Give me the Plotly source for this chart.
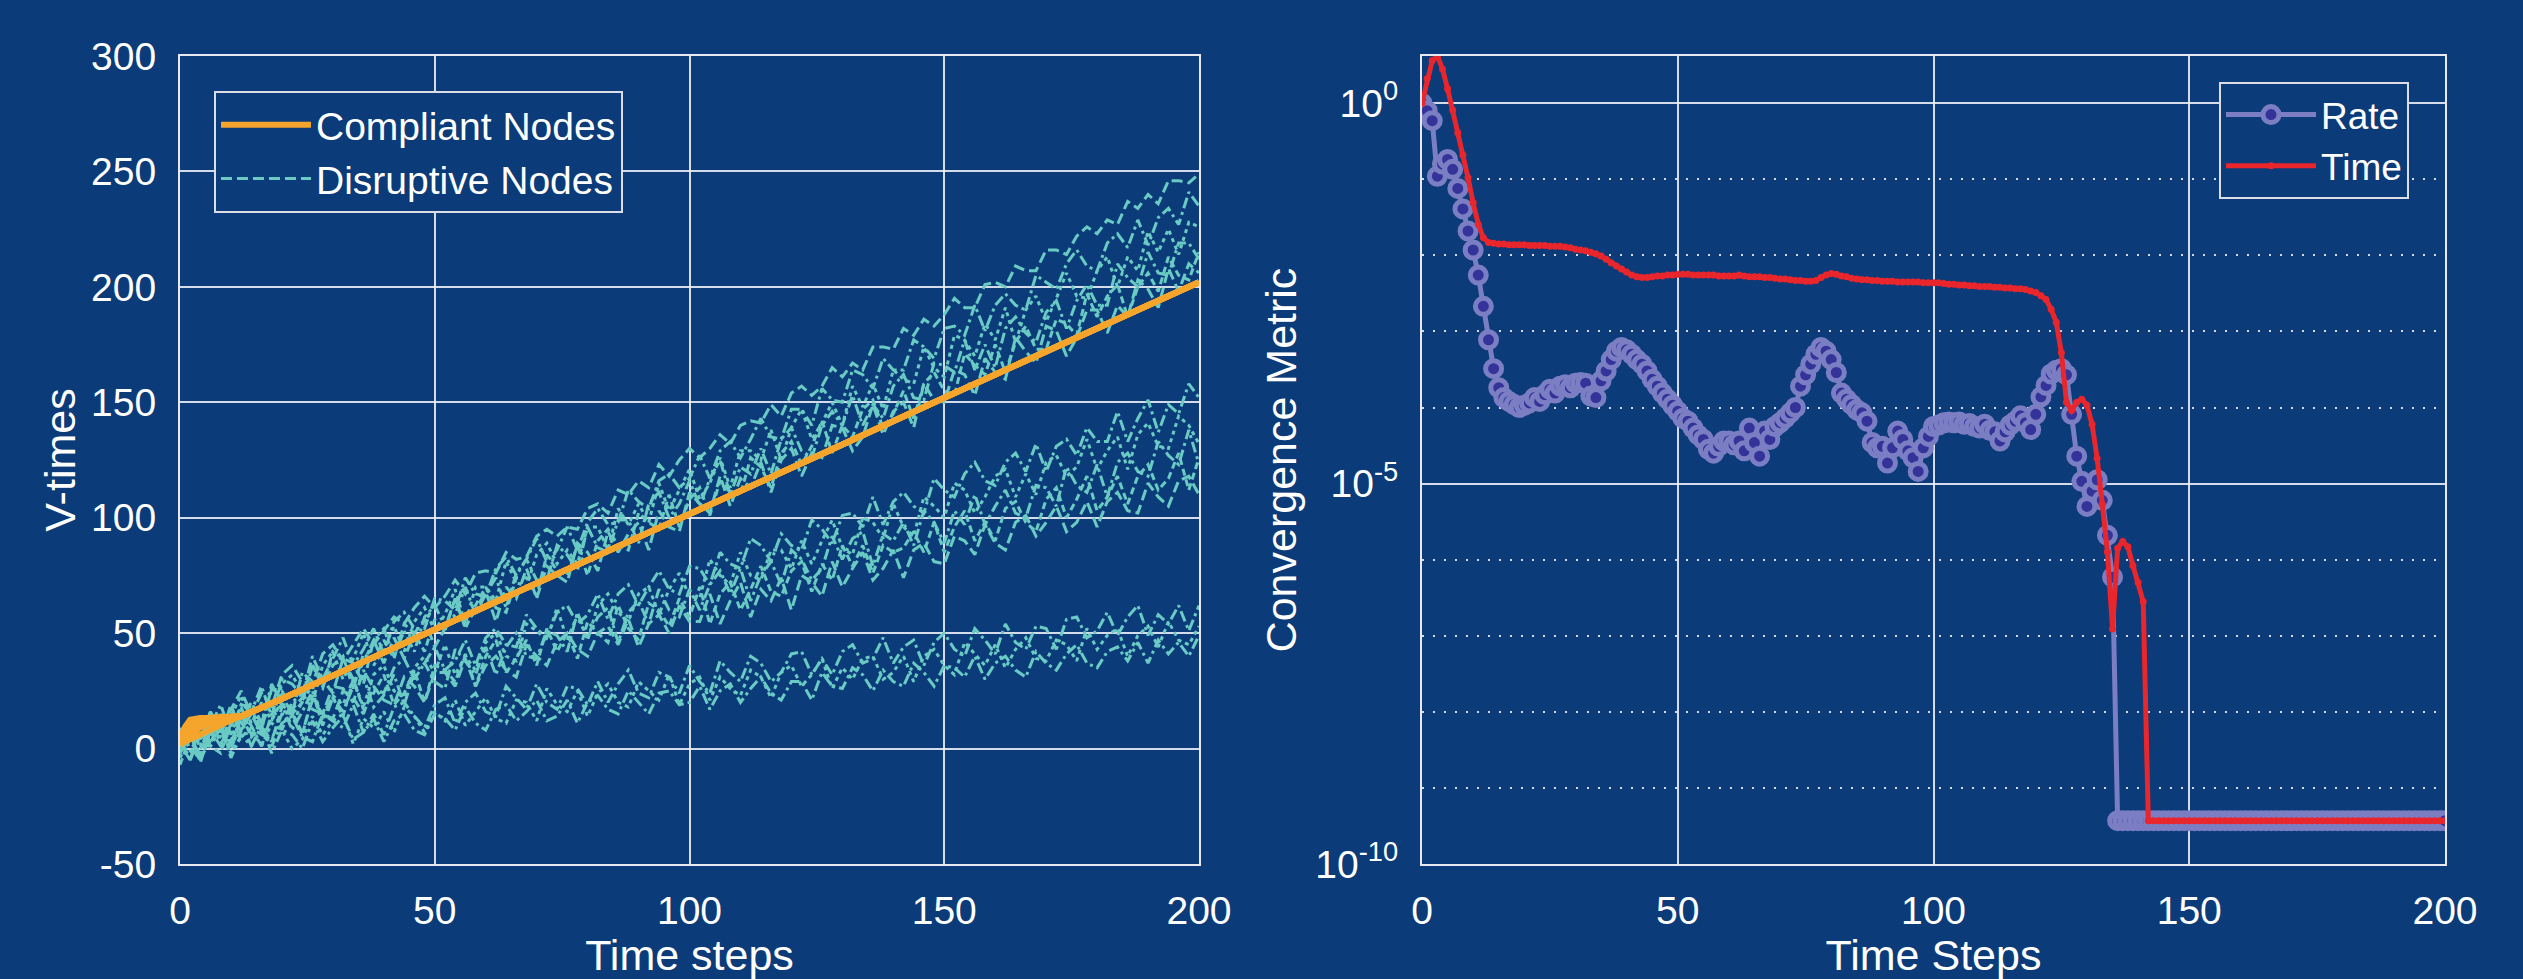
import plotly.graph_objects as go

# ---------------- data: left panel (V-times) ----------------
disruptive_t = list(range(0, 201, 2))

U1 = [2, 10, 4, 16, 7, 17, 25, 15, 24, 18,
      32, 36, 29, 28, 41, 45, 38, 45, 52, 45,
      51, 57, 54, 61, 66, 61, 66, 73, 67, 76,
      77, 76, 85, 82, 83, 92, 95, 92, 96, 95,
      104, 106, 102, 112, 110, 116, 113, 123, 118, 125,
      130, 126, 130, 136, 132, 140, 142, 141, 149, 144,
      154, 157, 153, 157, 165, 161, 167, 164, 174, 174,
      173, 182, 179, 186, 183, 188, 195, 191, 191, 201,
      202, 200, 209, 207, 207, 216, 216, 214, 222, 226,
      223, 229, 227, 237, 234, 240, 236, 246, 246, 245,
      249]
U2 = [-2, 11, 0, 10, 19, 6, 19, 16, 27, 14,
      30, 28, 23, 40, 30, 39, 48, 36, 43, 52,
      41, 55, 59, 52, 52, 65, 64, 60, 74, 67,
      66, 78, 83, 75, 82, 91, 81, 86, 96, 86,
      98, 104, 97, 98, 112, 107, 104, 116, 119, 113,
      117, 127, 117, 129, 133, 126, 134, 143, 135, 134,
      147, 147, 140, 156, 151, 150, 164, 162, 156, 169,
      164, 164, 177, 174, 169, 182, 183, 179, 192, 181,
      192, 197, 192, 190, 205, 202, 199, 210, 216, 209,
      207, 219, 223, 217, 229, 218, 230, 234, 227, 241,
      235]
U3 = [0, 8, 1, 15, 2, 14, 23, 11, 20, 12,
      28, 32, 24, 20, 36, 42, 30, 39, 50, 36,
      43, 53, 42, 55, 61, 51, 58, 69, 54, 70,
      70, 64, 81, 72, 70, 84, 89, 80, 86, 80,
      96, 96, 86, 104, 97, 106, 98, 115, 103, 112,
      121, 108, 115, 126, 113, 129, 129, 125, 138, 125,
      139, 147, 134, 141, 150, 140, 157, 148, 158, 147,
      164, 160, 158, 174, 165, 161, 179, 177, 170, 184,
      177, 191, 176, 190, 196, 185, 195, 206, 196, 195,
      207, 213, 200, 213, 207, 224, 215, 225, 214, 228,
      226]
U4 = [5, -5, 6, 16, 5, 3, 19, 18, 11, 28,
      19, 15, 33, 29, 26, 42, 39, 30, 37, 47,
      52, 40, 51, 42, 57, 62, 53, 58, 70, 58,
      67, 74, 61, 76, 82, 73, 73, 88, 84, 77,
      96, 87, 85, 99, 99, 89, 106, 111, 100, 106,
      116, 105, 117, 125, 110, 122, 119, 130, 119, 134,
      139, 129, 126, 140, 146, 140, 153, 140, 149, 143,
      157, 162, 152, 151, 167, 166, 163, 177, 164, 175,
      165, 182, 187, 180, 176, 189, 194, 182, 194, 201,
      192, 192, 210, 204, 200, 215, 206, 205, 219, 219,
      212]
U5 = [-7, 5, 12, 2, 15, 2, 13, 20, 11, 26,
      23, 15, 20, 36, 27, 36, 40, 26, 41, 38,
      47, 39, 54, 50, 42, 56, 51, 65, 52, 62,
      70, 61, 59, 74, 74, 66, 84, 77, 75, 88,
      75, 90, 95, 88, 86, 102, 98, 95, 110, 96,
      108, 113, 101, 116, 111, 110, 126, 122, 113, 128,
      133, 123, 131, 142, 128, 140, 135, 147, 151, 139,
      145, 155, 143, 158, 163, 155, 153, 171, 166, 162,
      175, 163, 176, 183, 173, 173, 186, 184, 179, 197,
      187, 196, 201, 187, 200, 206, 198, 213, 205, 203,
      215]
U6 = [0, 6, -3, 12, 6, 19, 7, 17, 8, 26,
      25, 17, 22, 36, 30, 24, 39, 37, 28, 47,
      37, 48, 39, 50, 56, 44, 52, 65, 53, 60,
      68, 55, 70, 65, 78, 65, 79, 75, 72, 89,
      85, 77, 94, 85, 93, 98, 86, 103, 96, 94,
      111, 106, 102, 118, 105, 117, 113, 124, 111, 125,
      130, 118, 128, 126, 140, 139, 129, 135, 149, 136,
      146, 150, 139, 158, 151, 150, 164, 162, 153, 169,
      163, 160, 178, 172, 167, 183, 181, 170, 178, 190,
      190, 180, 192, 187, 203, 199, 191, 208, 198, 210,
      206]
M1 = [5, 3, -3, 12, 2, 10, 18, 6, 11, 19,
      8, 20, 24, 17, 15, 27, 26, 20, 34, 26,
      24, 35, 39, 30, 37, 44, 34, 38, 47, 36,
      48, 52, 45, 44, 58, 52, 48, 59, 62, 54,
      58, 67, 56, 67, 71, 62, 70, 77, 69, 67,
      79, 78, 71, 85, 80, 78, 91, 88, 81, 93,
      88, 86, 99, 95, 89, 101, 102, 96, 109, 97,
      107, 111, 105, 102, 117, 112, 109, 119, 124, 116,
      114, 124, 128, 120, 132, 120, 131, 134, 127, 139,
      133, 133, 146, 133, 143, 151, 137, 149, 145, 158,
      152]
M2 = [9, -1, -4, 9, 9, -2, 14, 18, 6, 12,
      21, 9, 21, 27, 12, 23, 19, 30, 18, 32,
      36, 25, 22, 35, 40, 33, 45, 32, 40, 34,
      46, 50, 40, 38, 54, 51, 47, 61, 47, 58,
      47, 62, 67, 59, 55, 67, 70, 58, 69, 76,
      66, 65, 82, 75, 71, 85, 75, 73, 86, 86,
      78, 90, 80, 90, 99, 87, 84, 100, 98, 91,
      106, 96, 92, 109, 105, 100, 115, 112, 102, 109,
      118, 121, 109, 119, 110, 124, 127, 118, 122, 134,
      121, 129, 135, 121, 136, 141, 131, 130, 144, 140,
      132]
M3 = [2, 6, -6, 8, 1, 0, 15, 10, 1, 15,
      19, 8, 16, 25, 10, 22, 16, 27, 31, 18,
      23, 32, 19, 33, 37, 29, 26, 43, 38, 32,
      44, 32, 44, 50, 40, 39, 51, 49, 42, 59,
      48, 57, 61, 46, 59, 64, 54, 69, 60, 57,
      69, 60, 71, 77, 67, 78, 64, 75, 81, 71,
      86, 82, 73, 78, 92, 82, 91, 94, 79, 93,
      90, 98, 88, 103, 98, 89, 103, 97, 110, 97,
      105, 112, 102, 100, 114, 113, 105, 122, 114, 111,
      123, 109, 124, 128, 120, 118, 133, 127, 123, 138,
      123]
M4 = [2, -5, 11, 1, -2, 11, 15, 5, 10, 3,
      18, 16, 6, 23, 15, 22, 14, 30, 17, 24,
      32, 19, 24, 34, 20, 36, 34, 29, 41, 27,
      40, 47, 33, 39, 47, 36, 52, 42, 50, 39,
      55, 50, 46, 62, 52, 47, 63, 60, 53, 65,
      57, 70, 54, 67, 72, 60, 69, 79, 68, 66,
      77, 81, 68, 80, 73, 88, 79, 88, 76, 88,
      85, 87, 94, 85, 98, 85, 96, 103, 90, 98,
      90, 104, 107, 98, 94, 108, 113, 100, 108, 118,
      103, 109, 118, 106, 118, 123, 112, 117, 128, 112,
      126]
M5 = [-2, 7, -5, 6, 10, 1, 8, 15, 6, 4,
      15, 15, 7, 21, 15, 13, 25, 22, 15, 27,
      21, 19, 31, 27, 20, 33, 33, 27, 39, 27,
      36, 40, 34, 31, 45, 40, 36, 46, 50, 43,
      40, 50, 53, 45, 56, 44, 54, 58, 50, 62,
      55, 55, 67, 54, 64, 72, 57, 69, 64, 74,
      60, 75, 72, 66, 81, 70, 78, 85, 73, 78,
      86, 74, 86, 89, 81, 80, 92, 90, 84, 97,
      89, 86, 98, 101, 92, 98, 105, 94, 98, 107,
      96, 107, 111, 103, 102, 115, 109, 105, 116, 118,
      110]
L1 = [8, 0, -4, 6, 9, 3, 12, 1, 8, 1,
      11, 14, 5, 3, 15, 12, 9, 19, 7, 15,
      6, 18, 20, 14, 9, 19, 22, 11, 20, 24,
      16, 14, 27, 22, 17, 28, 20, 17, 27, 26,
      19, 29, 20, 28, 34, 24, 22, 33, 31, 24,
      36, 29, 24, 38, 33, 29, 40, 37, 29, 33,
      41, 42, 32, 39, 32, 42, 45, 37, 39, 48,
      37, 44, 47, 36, 46, 50, 43, 40, 52, 47,
      41, 54, 46, 43, 53, 52, 43, 56, 57, 48,
      51, 59, 49, 57, 62, 49, 58, 54, 62, 51,
      62]
L2 = [-4, 5, 9, 1, 9, -2, 5, 9, 1, 11,
      8, 0, 4, 14, 6, 12, 15, 2, 13, 9,
      16, 7, 18, 14, 7, 16, 12, 21, 10, 16,
      22, 13, 11, 21, 20, 12, 26, 19, 16, 25,
      14, 24, 28, 20, 18, 29, 25, 21, 32, 19,
      28, 31, 21, 31, 26, 23, 34, 31, 22, 33,
      36, 27, 32, 39, 26, 35, 30, 39, 40, 30,
      33, 40, 29, 40, 43, 36, 32, 46, 41, 36,
      45, 35, 43, 48, 39, 38, 47, 45, 38, 52,
      43, 49, 52, 40, 49, 53, 44, 55, 47, 45,
      53]
L3 = [-2, 6, -4, 3, 9, -4, 6, 1, 10, -2,
      8, 6, 0, 12, 3, 9, 14, 4, 7, 13,
      3, 12, 15, 8, 6, 15, 13, 8, 18, 11,
      8, 17, 19, 12, 16, 21, 12, 14, 21, 11,
      20, 23, 17, 15, 25, 20, 15, 24, 25, 19,
      20, 27, 17, 25, 28, 20, 26, 31, 24, 21,
      29, 29, 21, 33, 27, 26, 35, 32, 25, 34,
      29, 27, 37, 33, 27, 36, 35, 31, 40, 30,
      37, 40, 34, 31, 42, 37, 34, 41, 45, 37,
      35, 42, 44, 38, 46, 37, 47, 41, 46, 40,
      49]
disruptive_lines = [U1, U2, U3, U4, U5, U6, M1, M2, M3, M4, M5, L1, L2, L3]

# compliant nodes: individual start-up transients, then one common track
compliant_head_t = [0, 1, 2, 3, 4, 6, 8, 10]
compliant_heads = [
    [2.0, 3.1, 4.2, 5.3, 6.4, 8.5, 10.5, 12.3],
    [4.5, 9.5, 12.5, 13.2, 13.3, 13.4, 13.5, 13.6],
    [3.5, 7.5, 10.5, 12.2, 13.0, 13.3, 13.4, 13.6],
    [2.5, 5.5, 8.0, 10.0, 11.5, 12.8, 13.2, 13.6],
    [1.5, 4.0, 6.0, 7.8, 9.2, 11.0, 12.3, 13.3],
]
compliant_tail_t = [12, 14, 16, 20, 30, 50, 75, 100, 125, 150, 175, 200]
compliant_tail_v = [14.0, 15.8, 17.6, 21.6, 31.6, 51.5, 76.5, 101.3, 126.6, 152.0, 177.0, 202.0]

# ---------------- data: right panel (convergence, log10 values) ----------------
steps = list(range(0, 201))
rate_log10 = [
    0.00, -0.10, -0.23, -0.96, -0.80, -0.74, -0.87, -1.12, -1.39, -1.68,
    -1.93, -2.26, -2.67, -3.11, -3.49, -3.74, -3.87, -3.92, -3.96, -4.00,
    -3.97, -3.94, -3.87, -3.92, -3.83, -3.76, -3.81, -3.72, -3.70, -3.74,
    -3.68, -3.67, -3.68, -3.85, -3.87, -3.65, -3.52, -3.37, -3.26, -3.21,
    -3.24, -3.30, -3.37, -3.43, -3.52, -3.63, -3.72, -3.81, -3.89, -3.97,
    -4.05, -4.14, -4.18, -4.27, -4.36, -4.42, -4.55, -4.60, -4.51, -4.44,
    -4.44, -4.49, -4.44, -4.57, -4.27, -4.46, -4.64, -4.31, -4.42, -4.25,
    -4.20, -4.14, -4.07, -4.00, -3.72, -3.57, -3.43, -3.30, -3.21, -3.26,
    -3.37, -3.54, -3.81, -3.89, -3.96, -4.03, -4.07, -4.18, -4.46, -4.53,
    -4.51, -4.73, -4.53, -4.31, -4.42, -4.57, -4.66, -4.84, -4.53, -4.38,
    -4.25, -4.23, -4.20, -4.19, -4.20, -4.19, -4.22, -4.21, -4.25, -4.27,
    -4.22, -4.30, -4.32, -4.44, -4.32, -4.23, -4.18, -4.11, -4.20, -4.29,
    -4.09, -3.86, -3.71, -3.56, -3.51, -3.49, -3.57, -4.09, -4.64, -4.97,
    -5.30, -5.10, -4.95, -5.22, -5.68, -6.23, -9.43, -9.43, -9.43, -9.43,
    -9.43, -9.43, -9.43, -9.43, -9.43, -9.43, -9.43, -9.43, -9.43, -9.43,
    -9.43, -9.43, -9.43, -9.43, -9.43, -9.43, -9.43, -9.43, -9.43, -9.43,
    -9.43, -9.43, -9.43, -9.43, -9.43, -9.43, -9.43, -9.43, -9.43, -9.43,
    -9.43, -9.43, -9.43, -9.43, -9.43, -9.43, -9.43, -9.43, -9.43, -9.43,
    -9.43, -9.43, -9.43, -9.43, -9.43, -9.43, -9.43, -9.43, -9.43, -9.43,
    -9.43, -9.43, -9.43, -9.43, -9.43, -9.43, -9.43, -9.43, -9.43, -9.43,
    -9.43]
time_log10 = [
    0.00, 0.32, 0.56, 0.62, 0.45, 0.19, -0.09, -0.39, -0.68, -0.98,
    -1.31, -1.59, -1.77, -1.83, -1.84, -1.85, -1.85, -1.86, -1.86, -1.86,
    -1.86, -1.87, -1.87, -1.87, -1.87, -1.88, -1.88, -1.88, -1.89, -1.90,
    -1.92, -1.93, -1.94, -1.96, -1.98, -2.01, -2.05, -2.10, -2.14, -2.18,
    -2.22, -2.26, -2.28, -2.29, -2.29, -2.28, -2.27, -2.27, -2.26, -2.26,
    -2.25, -2.25, -2.25, -2.26, -2.26, -2.26, -2.26, -2.26, -2.27, -2.27,
    -2.27, -2.27, -2.26, -2.27, -2.28, -2.28, -2.28, -2.29, -2.29, -2.30,
    -2.31, -2.31, -2.32, -2.33, -2.33, -2.34, -2.34, -2.33, -2.29, -2.26,
    -2.24, -2.25, -2.27, -2.28, -2.30, -2.31, -2.32, -2.32, -2.33, -2.33,
    -2.34, -2.34, -2.34, -2.35, -2.35, -2.35, -2.35, -2.35, -2.36, -2.36,
    -2.36, -2.36, -2.37, -2.38, -2.38, -2.39, -2.39, -2.40, -2.40, -2.41,
    -2.41, -2.41, -2.42, -2.42, -2.43, -2.43, -2.44, -2.44, -2.45, -2.47,
    -2.49, -2.53, -2.58, -2.71, -2.88, -3.28, -3.93, -4.04, -3.93, -3.89,
    -3.97, -4.22, -4.67, -5.27, -5.90, -6.91, -5.85, -5.76, -5.83, -6.08,
    -6.30, -6.55, -9.43, -9.43, -9.43, -9.43, -9.43, -9.43, -9.43, -9.43,
    -9.43, -9.43, -9.43, -9.43, -9.43, -9.43, -9.43, -9.43, -9.43, -9.43,
    -9.43, -9.43, -9.43, -9.43, -9.43, -9.43, -9.43, -9.43, -9.43, -9.43,
    -9.43, -9.43, -9.43, -9.43, -9.43, -9.43, -9.43, -9.43, -9.43, -9.43,
    -9.43, -9.43, -9.43, -9.43, -9.43, -9.43, -9.43, -9.43, -9.43, -9.43,
    -9.43, -9.43, -9.43, -9.43, -9.43, -9.43, -9.43, -9.43, -9.43, -9.43,
    -9.43]

x_ticks = [0, 50, 100, 150, 200]
x_tick_labels = ["0", "50", "100", "150", "200"]
left_y_ticks = [-50, 0, 50, 100, 150, 200, 250, 300]
left_y_tick_labels = ["-50", "0", "50", "100", "150", "200", "250", "300"]
right_major_exp = [-10, -5, 0]
right_minor_exp = [-9, -8, -7, -6, -4, -3, -2, -1]

# ---------------- styling ----------------
BG = "#0b3b79"
WHITE = "#ffffff"
GRID = "rgba(235,238,245,0.9)"
ORANGE = "#f5a52b"
TEAL = "#6acbc4"
LAVENDER = "#7b7ec3"
MARKER_FILL = "#33339a"
RED = "#e8262c"
FONT = "Liberation Sans, Arial, Helvetica, sans-serif"
dash_cycle = ["11px,5px", "11px,4px,3px,4px", "4px,4px", "11px,4px,3px,4px", "7px,4px"]

fig = go.Figure()

for i, vals in enumerate(disruptive_lines):
    fig.add_trace(go.Scatter(
        x=disruptive_t, y=vals, mode="lines",
        line=dict(color=TEAL, width=3, dash=dash_cycle[i % len(dash_cycle)]),
        name="Disruptive Nodes", legendgroup="dis", showlegend=(i == 0),
        legendrank=2, legend="legend", xaxis="x", yaxis="y", hoverinfo="skip"))

for i, head in enumerate(compliant_heads):
    fig.add_trace(go.Scatter(
        x=compliant_head_t + compliant_tail_t, y=head + compliant_tail_v, mode="lines",
        line=dict(color=ORANGE, width=6),
        name="Compliant Nodes", legendgroup="comp", showlegend=(i == 0),
        legendrank=1, legend="legend", xaxis="x", yaxis="y", hoverinfo="skip"))

fig.add_trace(go.Scatter(
    x=steps, y=[10 ** e for e in rate_log10], mode="lines+markers",
    line=dict(color=LAVENDER, width=5),
    marker=dict(symbol="circle", size=16, color=MARKER_FILL, line=dict(color=LAVENDER, width=5)),
    name="Rate", legend="legend2", xaxis="x2", yaxis="y2"))
fig.add_trace(go.Scatter(
    x=steps, y=[10 ** e for e in time_log10], mode="lines+markers",
    line=dict(color=RED, width=5),
    marker=dict(symbol="circle", size=7, color=RED),
    name="Time", legend="legend2", xaxis="x2", yaxis="y2"))

W, H = 2523, 979
ML, MR, MT, MB = 180, 78, 56, 115
PW = W - ML - MR
PH = H - MT - MB

axis_common = dict(
    showgrid=True, gridcolor=GRID, gridwidth=2,
    showline=True, linecolor="#e8e8f0", linewidth=2, mirror=True,
    zeroline=False, ticks="", automargin=False,
    tickfont=dict(size=39, color=WHITE, family=FONT),
)

fig.update_layout(
    width=W, height=H,
    margin=dict(l=ML, r=MR, t=MT, b=MB, pad=0),
    paper_bgcolor=BG, plot_bgcolor=BG,
    font=dict(family=FONT, color=WHITE, size=39),
    xaxis=dict(axis_common, domain=[0, (1199 - ML) / PW], range=[0, 200],
               tickvals=x_ticks, ticktext=x_tick_labels, ticklabelstandoff=11, anchor="y",
               title=dict(text="Time steps", font=dict(size=43), standoff=20)),
    yaxis=dict(axis_common, domain=[0, 1], range=[-50, 300],
               tickvals=left_y_ticks, ticktext=left_y_tick_labels,
               ticklabelstandoff=14, anchor="x",
               title=dict(text="V-times", font=dict(size=43), standoff=2)),
    xaxis2=dict(axis_common, domain=[(1422 - ML) / PW, 1], range=[0, 200],
                tickvals=x_ticks, ticktext=x_tick_labels, ticklabelstandoff=11, anchor="y2",
                title=dict(text="Time Steps", font=dict(size=43), standoff=20)),
    yaxis2=dict(axis_common, domain=[0, 1], type="log", range=[-10, 0.62],
                tickvals=[10 ** e for e in right_major_exp],
                ticktext=["10<sup>%d</sup>" % e for e in right_major_exp],
                ticklabelstandoff=14, anchor="x2",
                minor=dict(tickvals=[10 ** e for e in right_minor_exp], showgrid=True,
                           gridcolor=GRID, gridwidth=2, griddash="2px,9px", ticks=""),
                title=dict(text="Convergence Metric", font=dict(size=43), standoff=5)),
    legend=dict(x=(214 - ML) / PW, y=(H - MB - 91) / PH, xref="paper", yref="paper",
                xanchor="left", yanchor="top", bgcolor=BG,
                bordercolor="#dcdde6", borderwidth=2,
                font=dict(size=39, color=WHITE, family=FONT),
                itemwidth=90, tracegroupgap=0),
    legend2=dict(x=(2219 - ML) / PW, y=(H - MB - 82) / PH, xref="paper", yref="paper",
                 xanchor="left", yanchor="top", bgcolor=BG,
                 bordercolor="#dcdde6", borderwidth=2,
                 font=dict(size=37, color=WHITE, family=FONT),
                 itemwidth=90),
    showlegend=True,
)

fig.write_html("out.html", config={"displayModeBar": False},
               post_script="document.body.style.margin='0';document.body.style.overflow='hidden';")
